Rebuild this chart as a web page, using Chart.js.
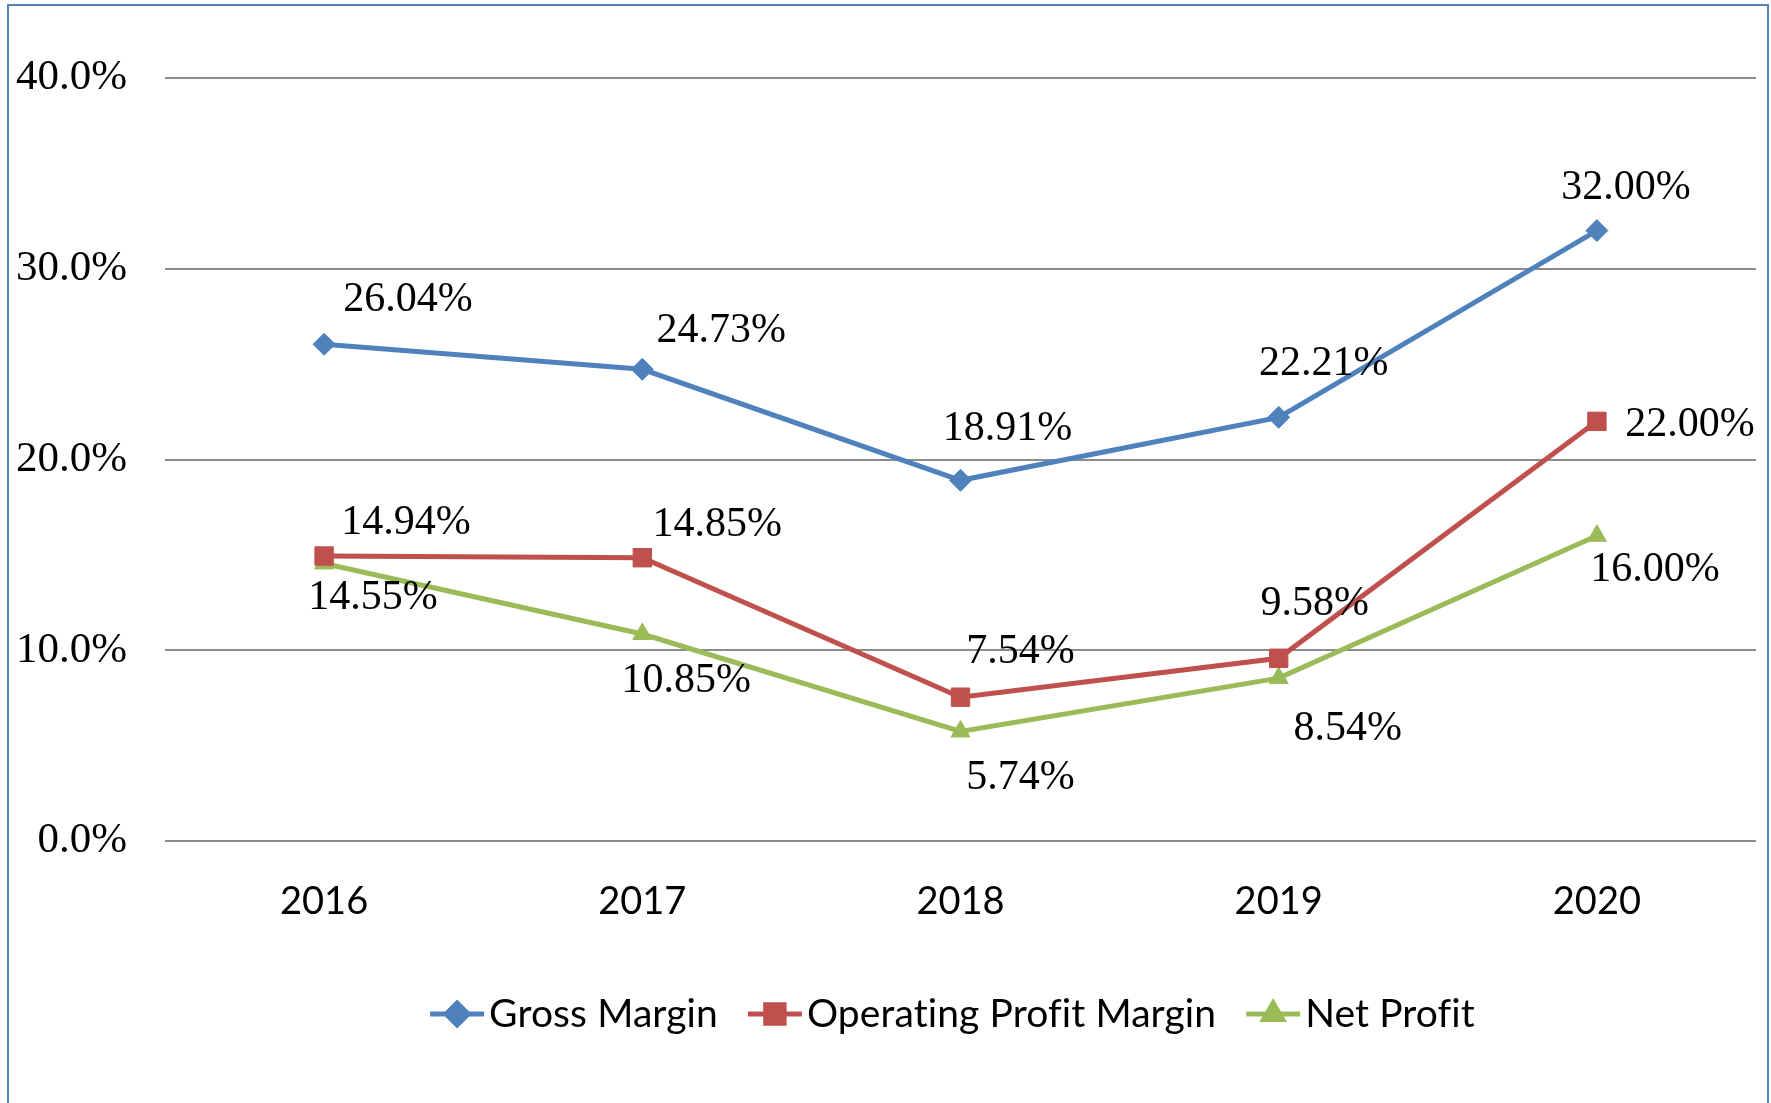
<!DOCTYPE html>
<html>
<head>
<meta charset="utf-8">
<script src="https://cdn.jsdelivr.net/npm/chart.js@4"></script>
<style>
  html, body { margin: 0; padding: 0; background: #fff; overflow: hidden; }
  #wrap { position: absolute; left: 0; top: 0; width: 1771px; height: 1103px; }
  #frame { position: absolute; left: 7px; top: 4px; width: 1758px; height: 1200px;
           border: 2px solid #4F81BD; border-bottom: none; pointer-events: none; }
</style>
</head>
<body>
<div id="wrap"><canvas id="myChart"></canvas></div>
<div id="frame"></div>
<script>
var years = ['2016', '2017', '2018', '2019', '2020'];
var grossMargin = [26.04, 24.73, 18.91, 22.21, 32.00];
var operatingMargin = [14.94, 14.85, 7.54, 9.58, 22.00];
var netProfit = [14.55, 10.85, 5.74, 8.54, 16.00];
var yTicks = [0, 10, 20, 30, 40];

// label offsets from each point, in pixels
var grossOffsets = [[84, -44], [79, -38], [47, -51], [45, -53], [29, -43]];
var operatingOffsets = [[82, -33], [75, -33], [60, -45], [36, -54], [93, 4]];
var netOffsets = [[49, 35], [44, 47], [60, 46], [69, 51], [58, 34]];

var serif = '"Liberation Serif", "Times New Roman", serif';
var sans = 'Lato, "Open Sans", sans-serif';

var pointLabels = {
  id: 'pointLabels',
  afterDatasetsDraw: function (chart) {
    var ctx = chart.ctx;
    ctx.save();
    ctx.font = '42px ' + serif;
    ctx.fillStyle = '#000';
    ctx.textAlign = 'center';
    ctx.textBaseline = 'middle';
    chart.data.datasets.forEach(function (ds, i) {
      var meta = chart.getDatasetMeta(i);
      meta.data.forEach(function (pt, j) {
        var off = ds.labelOffsets[j];
        ctx.fillText(ds.data[j].toFixed(2) + '%', pt.x + off[0], pt.y + off[1]);
      });
    });
    ctx.restore();
  }
};

var lineLegend = {
  id: 'lineLegend',
  afterDraw: function (chart) {
    var ctx = chart.ctx;
    var area = chart.chartArea;
    var lineW = 54, gap = 5, spacing = 30, y = 1014;
    ctx.save();
    ctx.font = '39px ' + sans;
    // spacing switches off the "ti" ligature of Lato
    ctx.letterSpacing = '0.1px';
    var items = chart.data.datasets.map(function (ds) {
      return { ds: ds, w: ctx.measureText(ds.label).width };
    });
    var total = 0;
    items.forEach(function (it, i) {
      total += lineW + gap + it.w + (i < items.length - 1 ? spacing : 0);
    });
    var x = (area.left + area.right) / 2 - 8 - total / 2;
    items.forEach(function (it) {
      var ds = it.ds;
      ctx.strokeStyle = ds.borderColor;
      ctx.lineWidth = ds.borderWidth;
      ctx.beginPath();
      ctx.moveTo(x, y);
      ctx.lineTo(x + lineW, y);
      ctx.stroke();
      Chart.helpers.drawPoint(ctx, {
        pointStyle: ds.pointStyle,
        radius: ds.pointRadius,
        borderWidth: 1
      }, x + lineW / 2, y);
      ctx.fillStyle = ds.borderColor;
      ctx.fill();
      ctx.fillStyle = '#000';
      ctx.textAlign = 'left';
      ctx.textBaseline = 'middle';
      ctx.fillText(ds.label, x + lineW + gap, y);
      x += lineW + gap + it.w + spacing;
    });
    ctx.restore();
  }
};

const ctx = document.getElementById('myChart');

new Chart(ctx, {
  type: 'line',
  data: {
    labels: years,
    datasets: [
      {
        label: 'Gross Margin',
        data: grossMargin,
        labelOffsets: grossOffsets,
        borderColor: '#4F81BD',
        backgroundColor: '#4F81BD',
        borderWidth: 5,
        pointStyle: 'rectRot',
        pointRadius: 11,
        pointBorderWidth: 1,
      },
      {
        label: 'Operating Profit Margin',
        data: operatingMargin,
        labelOffsets: operatingOffsets,
        borderColor: '#C0504D',
        backgroundColor: '#C0504D',
        borderWidth: 5,
        pointStyle: 'rect',
        pointRadius: 13,
        pointBorderWidth: 1,
      },
      {
        label: 'Net Profit',
        data: netProfit,
        labelOffsets: netOffsets,
        borderColor: '#9BBB59',
        backgroundColor: '#9BBB59',
        borderWidth: 5,
        pointStyle: 'triangle',
        pointRadius: 11,
        pointBorderWidth: 1,
      },
    ],
  },
  options: {
    responsive: true,
    maintainAspectRatio: false,
    animation: false,
    layout: { padding: { left: 0, top: 78, right: 15, bottom: 0 } },
    plugins: {
      legend: { display: false },
      tooltip: { enabled: false },
    },
    scales: {
      x: {
        offset: true,
        grid: { display: false, drawTicks: false },
        border: { display: false },
        ticks: { color: '#000', font: { family: sans, size: 38 }, padding: 38 },
        afterFit: function (scale) { scale.height = 1103 - 841; },
      },
      y: {
        min: 0,
        max: 40,
        afterBuildTicks: function (scale) {
          scale.ticks = yTicks.map(function (v) { return { value: v }; });
        },
        grid: { color: '#8C8C8C', lineWidth: 2, drawTicks: false },
        border: { display: false },
        ticks: {
          color: '#000',
          font: { family: serif, size: 43 },
          padding: 38,
          callback: function (v) { return v.toFixed(1) + '%'; },
        },
        afterFit: function (scale) { scale.width = 165; },
      },
    },
  },
  plugins: [pointLabels, lineLegend],
});
</script>
</body>
</html>
